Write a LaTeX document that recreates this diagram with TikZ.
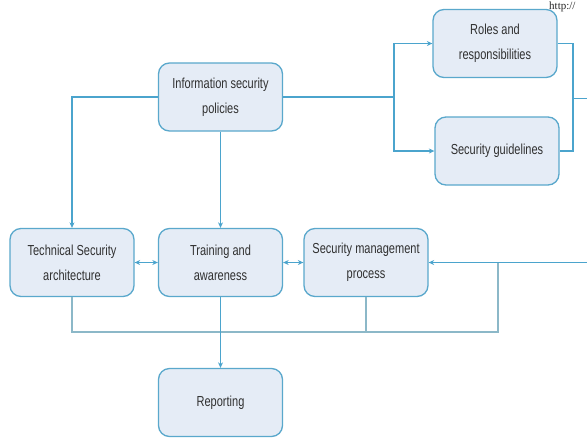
\documentclass[tikz,border=0pt]{standalone}
\usepackage{fontspec}
\setmainfont{Liberation Serif}
\newfontfamily\boxfont[FakeStretch=0.76]{Liberation Sans}
\usetikzlibrary{arrows.meta}
\definecolor{boxfill}{HTML}{E5ECF6}
\definecolor{boxline}{HTML}{5AA8CC}
\definecolor{connc}{HTML}{4BA4CD}
\definecolor{loopc}{HTML}{8CB8C8}
\definecolor{txt}{HTML}{303030}
\begin{document}
\begin{tikzpicture}[x=1pt,y=-1pt,
  box/.style={draw=boxline, fill=boxfill, line width=1.3pt, rounded corners=11pt,
    minimum width=124pt, minimum height=68pt, inner sep=0pt, align=center,
    text=txt, font=\boxfont\fontsize{14.5}{25}\selectfont},
  conn/.style={draw=connc, line width=1.2pt},
  arr/.style={conn, -{Stealth[length=5.5pt,width=5pt]}},
  darr/.style={conn, {Stealth[length=5.5pt,width=5pt]}-{Stealth[length=5.5pt,width=5pt]}},
  loopline/.style={draw=loopc, line width=1.6pt}]
\useasboundingbox (0,0) rectangle (587,440);
\clip (0,0) rectangle (587,440);
\fill[white] (0,0) rectangle (587,440);

\node[box] (info) at (220.5,97) {Information security\\policies};
\node[box] (roles) at (495,43.5) {Roles and\\responsibilities};
\node[box] (guide) at (497,151) {Security guidelines};
\node[box] (tech) at (72,262.5) {Technical Security\\architecture};
\node[box] (train) at (220.5,262.5) {Training and\\awareness};
\node[box] (mgmt) at (366,262.5) {Security management\\process};
\node[box] (report) at (220.5,402.5) {Reporting};
\node[font=\fontsize{11}{11}\selectfont, anchor=base west, text=black!85, inner sep=0pt] (url) at (549,9) {http://};

\coordinate (split) at (394,97);
\coordinate (rcol) at (573,98.5);
\coordinate (rout) at (595,98.5);
\coordinate (rin) at (595,262.5);
\coordinate (rdrop) at (498,262.5);
\coordinate (bl) at (72,332);
\coordinate (br) at (498,332);

\draw[loopline] (tech.south) -- (bl) -- (br) -- (rdrop);
\draw[loopline] (mgmt.south) -- (mgmt.south |- bl);

\draw[arr] (info.west) -| (tech.north);
\draw[arr] (info.south) -- (train.north);
\draw[conn] (info.east) -- (split);
\draw[arr] (split) |- (roles.west);
\draw[arr] (split) |- (guide.west);
\draw[conn] (roles.east) -| (rcol) |- (guide.east);
\draw[conn] (rcol) -- (rout);
\draw[arr] (rin) -- (mgmt.east);
\draw[arr] (train.south) -- (report.north);
\draw[darr] (tech.east) -- (train.west);
\draw[darr] (train.east) -- (mgmt.west);
\end{tikzpicture}
\end{document}
